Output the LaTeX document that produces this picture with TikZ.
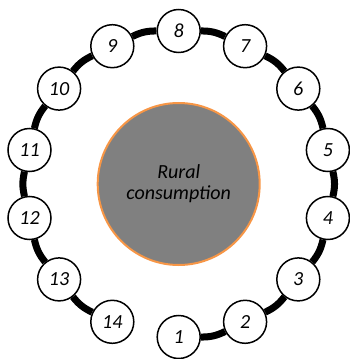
\documentclass[tikz,border=0pt]{standalone}
\usepackage{fontspec}
\setmainfont{Carlito}
\definecolor{ruralgray}{RGB}{128,128,128}
\definecolor{ruralorange}{RGB}{247,150,70}
\tikzset{
	stage/.style={circle, draw, fill=white, line width=1.5pt, minimum size=43pt, inner sep=0pt,
		font=\fontsize{20}{21}\selectfont\itshape},
	link/.style={line width=7pt, bend right=13},
	hub/.style={circle, draw=ruralorange, fill=ruralgray, line width=2pt, minimum size=162pt,
		align=center, font=\fontsize{20}{21}\selectfont\itshape}
}

\begin{document}
\begin{tikzpicture}[x=1pt, y=1pt]
		\useasboundingbox (-178.7,-175) rectangle (171.3,184);
		\node[hub] (Rural) at (0,0) {
			Rural\\consumption
		};
		\node[stage] (s1) at (0,-153) {1};
		\node[stage] (s2) at (66.4,-137.8) {2};
		\node[stage] (s3) at (119.6,-95.4) {3};
		\node[stage] (s4) at (149.2,-34) {4};
		\node[stage] (s5) at (149.2,34) {5};
		\node[stage] (s6) at (119.6,95.4) {6};
		\node[stage] (s7) at (66.4,137.8) {7};
		\node[stage] (s8) at (0,153) {8};
		\node[stage] (s9) at (-66.4,137.8) {9};
		\node[stage] (s10) at (-119.6,95.4) {10};
		\node[stage] (s11) at (-149.2,34) {11};
		\node[stage] (s12) at (-149.2,-34) {12};
		\node[stage] (s13) at (-119.6,-95.4) {13};
		\node[stage] (s14) at (-66.4,-137.8) {14};
		\draw[link] (s1) to (s2);
		\draw[link] (s2) to (s3);
		\draw[link] (s3) to (s4);
		\draw[link] (s4) to (s5);
		\draw[link] (s5) to (s6);
		\draw[link] (s6) to (s7);
		\draw[link] (s7) to (s8);
		\draw[link] (s8) to (s9);
		\draw[link] (s9) to (s10);
		\draw[link] (s10) to (s11);
		\draw[link] (s11) to (s12);
		\draw[link] (s12) to (s13);
		\draw[link] (s13) to (s14);
\end{tikzpicture}
\end{document}
